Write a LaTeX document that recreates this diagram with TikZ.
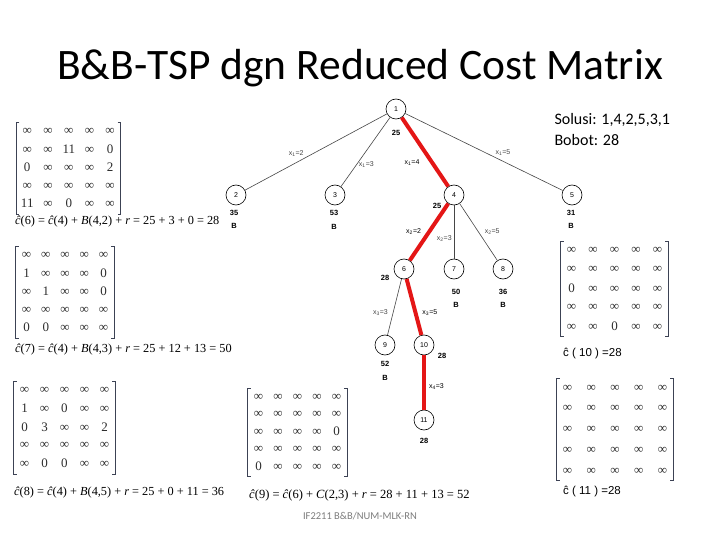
\documentclass[tikz,border=0pt]{standalone}
\usepackage{fontspec}
\setmainfont{Carlito}
\newfontfamily\arialfont{Liberation Sans}
\newfontfamily\timesfont{Liberation Serif}
\usetikzlibrary{matrix, positioning}
\definecolor{pathred}{RGB}{228, 22, 22}
\definecolor{edgegrey}{RGB}{70, 70, 70}
\definecolor{footgrey}{RGB}{125, 125, 125}
\definecolor{bracketgrey}{RGB}{60, 66, 84}
\definecolor{entrygrey}{RGB}{45, 45, 45}

\tikzset{
  tnode/.style={circle, draw, line width=0.6pt, minimum size=20pt, inner sep=0pt, font=\arialfont\fontsize{7}{7}\selectfont},
  val/.style={font=\arialfont\bfseries\fontsize{7.5}{8}\selectfont, inner sep=0pt},
  elbl/.style={font=\arialfont\fontsize{7}{8}\selectfont, inner sep=1pt},
  tedge/.style={edgegrey, line width=0.6pt},
  redge/.style={pathred, line width=4pt},
  cmat/.style={matrix of nodes, inner xsep=4.5pt, inner ysep=3pt,
    nodes={inner sep=0pt, minimum width=12pt, minimum height=12pt, text=entrygrey, font=\timesfont\fontsize{13}{13}\selectfont}},
  brk/.style={bracketgrey, line width=0.7pt},
  ccost/.style={font=\timesfont\fontsize{12.3}{14}\selectfont, inner sep=0pt, anchor=west},
  csans/.style={font=\arialfont\fontsize{11.5}{12}\selectfont, inner sep=0pt, anchor=west},
}
% square brackets round a matrix
\newcommand{\matbrackets}[1]{%
  \draw[brk] ([xshift=3pt]#1.north west) -- (#1.north west) -- (#1.south west) -- ([xshift=3pt]#1.south west);
  \draw[brk] ([xshift=-3pt]#1.north east) -- (#1.north east) -- (#1.south east) -- ([xshift=-3pt]#1.south east);}
\newcommand{\ci}{\textit{ĉ}}

\begin{document}
\begin{tikzpicture}[x=1pt, y=-1pt]
  \useasboundingbox[fill=white] (0,0) rectangle (720,540);

  % Title
  \node[font=\fontsize{43.5}{50}\selectfont] (title) at (360,68) {B\&B-TSP dgn Reduced Cost Matrix};
  \node[anchor=north west, align=left, font=\fontsize{16}{21}\selectfont] (sol) at (551,110) {Solusi: 1,4,2,5,3,1\\Bobot: 28};

  % Tree nodes
  \node[tnode] (n1) at (396,109) {1};
  \node[tnode] (n2) at (236,195) {2};
  \node[tnode] (n3) at (335,195) {3};
  \node[tnode] (n4) at (454,195) {4};
  \node[tnode] (n5) at (572,195) {5};
  \node[tnode] (n6) at (404,269) {6};
  \node[tnode] (n7) at (454,269) {7};
  \node[tnode] (n8) at (503,269) {8};
  \node[tnode] (n9) at (385,345) {9};
  \node[tnode] (n10) at (424,345) {10};
  \node[tnode] (n11) at (424,420) {11};

  % Costs and bounds
  \node[val] (c1) at (396,133) {25};
  \node[val] (c2) at (234,213) {35};
  \node[val, below=7pt of c2] (b2) {B};
  \node[val] (c3) at (334,213) {53};
  \node[val, below=8pt of c3] (b3) {B};
  \node[val] (c4) at (437,206) {25};
  \node[val] (c5) at (571,213) {31};
  \node[val, below=7pt of c5] (b5) {B};
  \node[val] (c6) at (385,278) {28};
  \node[val] (c7) at (456,292) {50};
  \node[val, below=7pt of c7] (b7) {B};
  \node[val] (c8) at (503,292) {36};
  \node[val, below=7pt of c8] (b8) {B};
  \node[val] (c9) at (385,364) {52};
  \node[val, below=8pt of c9] (b9) {B};
  \node[val] (c10) at (442,356) {28};
  \node[val] (c11) at (424,441) {28};

  % Branches
  \path[tedge] (n1) edge node[elbl, pos=0.64, above=5pt] {x\textsubscript{1}=2} (n2);
  \path[tedge] (n1) edge node[elbl, pos=0.68, right=1pt] {x\textsubscript{1}=3} (n3);
  \path[tedge] (n1) edge node[elbl, pos=0.62, above=4pt] {x\textsubscript{1}=5} (n5);
  \path[tedge] (n4) edge node[elbl, pos=0.62, left=1pt] {x\textsubscript{2}=3} (n7);
  \path[tedge] (n4) edge node[elbl, pos=0.5, right=5pt] {x\textsubscript{2}=5} (n8);
  \path[tedge] (n6) edge node[elbl, pos=0.6, left=4pt] {x\textsubscript{3}=3} (n9);
  \path[redge] (n1) edge node[elbl, black, pos=0.66, left=10pt] {x\textsubscript{1}=4} (n4);
  \path[redge] (n4) edge node[elbl, black, pos=0.5, left=5pt] {x\textsubscript{2}=2} (n6);
  \path[redge] (n6) edge node[elbl, black, pos=0.6, right=4pt] {x\textsubscript{3}=5} (n10);
  \path[redge] (n10) edge node[elbl, black, pos=0.58, right=2pt] {x\textsubscript{4}=3} (n11);

  % Matrix of node 6
  \matrix[cmat, column sep=8.5pt, row sep=5.5pt] (m6) at (68.5,168) {
    ∞ & ∞ & ∞ & ∞ & ∞ \\
    ∞ & ∞ & 11 & ∞ & 0 \\
    0 & ∞ & ∞ & ∞ & 2 \\
    ∞ & ∞ & ∞ & ∞ & ∞ \\
    11 & ∞ & 0 & ∞ & ∞ \\
  };
  \matbrackets{m6}
  \node[ccost] (f6) at (15,222) {\ci(6) = \ci(4) + \textit{B}(4,2) + \textit{r} = 25 + 3 + 0 = 28};

  % Matrix of node 7
  \matrix[cmat, column sep=7.25pt, row sep=5.5pt] (m7) at (65,292) {
    ∞ & ∞ & ∞ & ∞ & ∞ \\
    1 & ∞ & ∞ & ∞ & 0 \\
    ∞ & 1 & ∞ & ∞ & 0 \\
    ∞ & ∞ & ∞ & ∞ & ∞ \\
    0 & 0 & ∞ & ∞ & ∞ \\
  };
  \matbrackets{m7}
  \node[ccost] (f7) at (15,350) {\ci(7) = \ci(4) + \textit{B}(4,3) + \textit{r} = 25 + 12 + 13 = 50};

  % Matrix of node 8
  \matrix[cmat, column sep=8pt, row sep=5.75pt] (m8) at (64.5,427.5) {
    ∞ & ∞ & ∞ & ∞ & ∞ \\
    1 & ∞ & 0 & ∞ & ∞ \\
    0 & 3 & ∞ & ∞ & 2 \\
    ∞ & ∞ & ∞ & ∞ & ∞ \\
    ∞ & 0 & 0 & ∞ & ∞ \\
  };
  \matbrackets{m8}
  \node[ccost] (f8) at (14,493) {\ci(8) = \ci(4) + \textit{B}(4,5) + \textit{r} = 25 + 0 + 11 = 36};

  % Matrix of node 9
  \matrix[cmat, column sep=7.5pt, row sep=4.75pt] (m9) at (297.5,432.5) {
    ∞ & ∞ & ∞ & ∞ & ∞ \\
    ∞ & ∞ & ∞ & ∞ & ∞ \\
    ∞ & ∞ & ∞ & ∞ & 0 \\
    ∞ & ∞ & ∞ & ∞ & ∞ \\
    0 & ∞ & ∞ & ∞ & ∞ \\
  };
  \matbrackets{m9}
  \node[ccost, font=\timesfont\fontsize{12.5}{14}\selectfont] (f9) at (249,495) {\ci(9) = \ci(6) + \textit{C}(2,3) + \textit{r} = 28 + 11 + 13 = 52};

  % Matrix of node 10
  \matrix[cmat, column sep=9.5pt, row sep=6.5pt] (m10) at (614.5,289) {
    ∞ & ∞ & ∞ & ∞ & ∞ \\
    ∞ & ∞ & ∞ & ∞ & ∞ \\
    0 & ∞ & ∞ & ∞ & ∞ \\
    ∞ & ∞ & ∞ & ∞ & ∞ \\
    ∞ & ∞ & 0 & ∞ & ∞ \\
  };
  \matbrackets{m10}
  \node[csans] (f10) at (563,354) {ĉ ( 10 ) =28};

  % Matrix of node 11
  \matrix[cmat, column sep=11.75pt, row sep=8.75pt] (m11) at (615,429.5) {
    ∞ & ∞ & ∞ & ∞ & ∞ \\
    ∞ & ∞ & ∞ & ∞ & ∞ \\
    ∞ & ∞ & ∞ & ∞ & ∞ \\
    ∞ & ∞ & ∞ & ∞ & ∞ \\
    ∞ & ∞ & ∞ & ∞ & ∞ \\
  };
  \matbrackets{m11}
  \node[csans] (f11) at (563,492) {ĉ ( 11 ) =28};

  % Footer
  \node[text=footgrey, font=\fontsize{10.5}{12}\selectfont] (foot) at (360,516) {IF2211 B\&B/NUM-MLK-RN};
\end{tikzpicture}
\end{document}
